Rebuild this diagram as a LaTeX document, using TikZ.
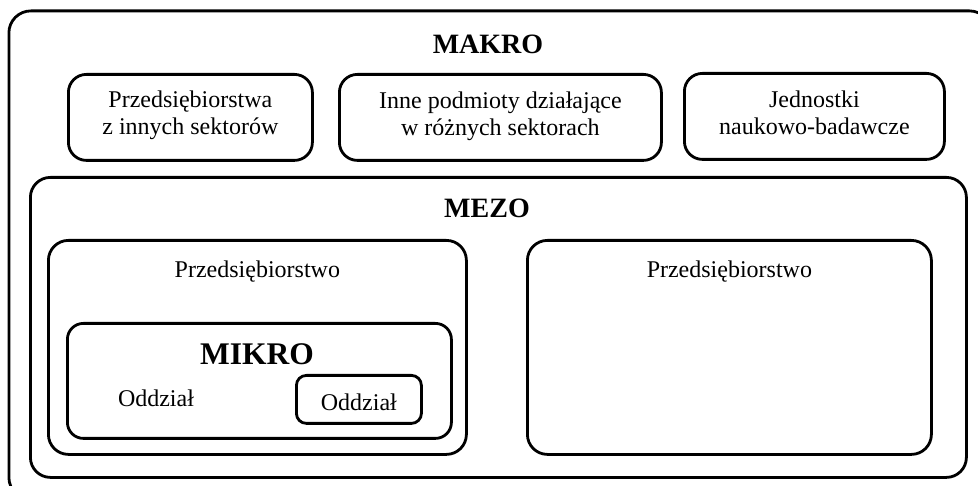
\documentclass[tikz,border=0pt]{standalone}
\usepackage{fontspec}
\setmainfont{Liberation Serif}
\begin{document}
\begin{tikzpicture}[x=1pt,y=-1pt,
  frame/.style={draw, line width=2.8pt, rounded corners=#1, inner sep=0pt, anchor=north west},
  lbl/.style={inner sep=0pt, anchor=base, font=\fontsize{24}{27}\selectfont, align=center},
  ttl/.style={inner sep=0pt, anchor=base, font=\fontsize{#1}{#1}\selectfont\bfseries}]
\useasboundingbox (0,0) rectangle (978,486);
\clip (0,0) rectangle (978,486);
% outer (MAKRO)
\node[frame=22, minimum width=982.5pt, minimum height=488.5pt] (makro) at (7.5,9.5) {};
\node[ttl=28] (makrot) at (488,54) {MAKRO};
% top boxes
\node[frame=18, minimum width=244pt, minimum height=86pt] (b1) at (67,73) {};
\node[lbl] (b1t) at (b1.center |- 0,135) {Przedsiębiorstwa\\z innych sektorów};
\node[frame=18, minimum width=322pt, minimum height=86pt] (b2) at (338,73) {};
\node[lbl] (b2t) at (b2.center |- 0,136) {Inne podmioty działające\\w różnych sektorach};
\node[frame=18, minimum width=260pt, minimum height=86pt] (b3) at (683,72) {};
\node[lbl] (b3t) at (b3.center |- 0,135) {Jednostki\\naukowo-badawcze};
% MEZO
\node[frame=20, minimum width=936pt, minimum height=300pt] (mezo) at (29,176) {};
\node[ttl=28] (mezot) at (487,218) {MEZO};
% left enterprise
\node[frame=20, minimum width=418pt, minimum height=214pt] (pl) at (47,239) {};
\node[lbl] (plt) at (pl.center |- 0,278) {Przedsiębiorstwo};
% right enterprise
\node[frame=20, minimum width=404pt, minimum height=214pt] (pr) at (526,239) {};
\node[lbl] (prt) at (pr.center |- 0,278) {Przedsiębiorstwo};
% MIKRO
\node[frame=16, minimum width=384pt, minimum height=115pt] (mikro) at (66,322) {};
\node[ttl=31.5] (mikrot) at (257,365) {MIKRO};
\node[lbl] (o1) at (156,407) {Oddział};
\node[frame=10, minimum width=125pt, minimum height=48pt] (o2box) at (295,374) {};
\node[lbl] (o2) at (o2box.center |- 0,410) {Oddział};
\end{tikzpicture}
\end{document}
